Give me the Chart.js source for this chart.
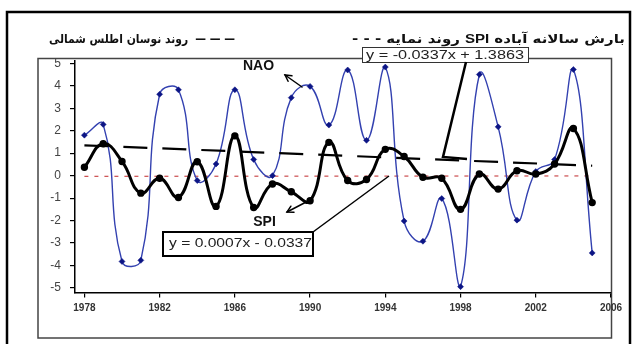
<!DOCTYPE html>
<html>
<head>
<meta charset="utf-8">
<script src="https://cdn.jsdelivr.net/npm/chart.js@4/dist/chart.umd.min.js"></script>
<style>
  html, body { margin: 0; padding: 0; background: #fff; }
  #wrap { width: 634px; height: 344px; }
</style>
</head>
<body>
<div id="wrap"><canvas id="c" width="634" height="344"></canvas></div>
<script>
// ---- data ----
const years = [1978,1979,1980,1981,1982,1983,1984,1985,1986,1987,1988,1989,1990,1991,
               1992,1993,1994,1995,1996,1997,1998,1999,2000,2001,2002,2003,2004,2005];
const nao = [1.80, 2.28, -3.82, -3.77, 3.62, 3.82, -0.22, 0.52, 3.82, 0.72, 0.00, 3.47, 3.97, 2.25,
             4.70, 1.57, 4.83, -2.02, -2.92, -1.02, -4.94, 4.50, 2.17, -1.98, 0.18, 0.72, 4.72, -3.44];
const spi = [0.37, 1.42, 0.63, -0.78, -0.12, -0.97, 0.62, -1.37, 1.77, -1.42, -0.37, -0.72, -1.12, 1.48,
             -0.22, -0.17, 1.17, 0.85, -0.07, -0.12, -1.50, 0.07, -0.60, 0.22, 0.07, 0.52, 2.10, -1.20];
const trendYears = [1978, 2005];
const naoTrend = [1.35, 0.44];    // y = -0.0337x + 1.3863
const spiTrend = [-0.03, -0.014]; // y = 0.0007x - 0.0337
const xTickYears = [1978, 1982, 1986, 1990, 1994, 1998, 2002, 2006];
const yTickValues = [-5, -4, -3, -2, -1, 0, 1, 2, 3, 4, 5];
const naoEquation = 'y = -0.0337x + 1.3863';
const spiEquation = 'y = 0.0007x - 0.0337';
const legendNaoText = 'روند نوسان اطلس شمالی';
const legendNaoKey = '— — —';
const legendSpiParts = ['- - -', 'روند نمایه', 'SPI', 'بارش سالانه آباده'];

const pts = (xs, ys) => xs.map((x, i) => ({x: x, y: ys[i]}));

function fitText(ctx, text, x, y, w, font, dir) {
  ctx.save();
  ctx.font = font;
  ctx.direction = dir || 'ltr';
  ctx.textBaseline = 'middle';
  ctx.textAlign = 'left';
  const m = ctx.measureText(text).width;
  const sx = w / m;
  ctx.translate(x, y);
  ctx.scale(sx, 1);
  ctx.fillText(text, 0, 0);
  ctx.restore();
}
// draws a row of pieces left-to-right, scaled to total width w
function rowText(ctx, pieces, x, y, w, gap) {
  ctx.save();
  ctx.textBaseline = 'middle';
  ctx.textAlign = 'left';
  let total = 0;
  const ws = pieces.map(p => { ctx.font = p.font; const m = ctx.measureText(p.t).width; total += m; return m; });
  total += gap * (pieces.length - 1);
  const sx = w / total;
  ctx.translate(x, y);
  ctx.scale(sx, 1);
  let cx = 0;
  pieces.forEach((p, i) => {
    ctx.font = p.font;
    ctx.direction = p.dir || 'ltr';
    ctx.textAlign = p.dir === 'rtl' ? 'right' : 'left';
    ctx.fillText(p.t, p.dir === 'rtl' ? cx + ws[i] : cx, 0);
    cx += ws[i] + gap;
  });
  ctx.restore();
}
function arrow(ctx, x1, y1, x2, y2, lw) {
  ctx.save();
  ctx.strokeStyle = '#000'; ctx.lineWidth = lw; ctx.lineCap = 'round';
  ctx.beginPath(); ctx.moveTo(x1, y1); ctx.lineTo(x2, y2); ctx.stroke();
  const a = Math.atan2(y2 - y1, x2 - x1), L = 7;
  ctx.beginPath();
  ctx.moveTo(x2 - L * Math.cos(a - 0.5), y2 - L * Math.sin(a - 0.5));
  ctx.lineTo(x2, y2);
  ctx.lineTo(x2 - L * Math.cos(a + 0.5), y2 - L * Math.sin(a + 0.5));
  ctx.stroke();
  ctx.restore();
}

const decor = {
  id: 'decor',
  beforeDraw(chart) {
    const ctx = chart.ctx;
    ctx.save();
    ctx.fillStyle = '#fff';
    ctx.fillRect(0, 0, chart.width, chart.height);
    ctx.strokeStyle = '#000'; ctx.lineWidth = 2.5;
    ctx.strokeRect(7, 12, 623, 345);
    ctx.strokeStyle = '#444'; ctx.lineWidth = 1.5;
    ctx.strokeRect(38, 58.5, 573.5, 279.5);
    ctx.restore();
  },
  afterDraw(chart) {
    const ctx = chart.ctx;
    ctx.save();
    ctx.fillStyle = '#111';
    const fa = 'bold 12px "DejaVu Sans"';
    // left legend: text then key dashes on the right
    rowText(ctx, [
      {t: legendNaoText, font: fa, dir: 'rtl'},
      {t: legendNaoKey, font: fa}
    ], 49, 40, 186, 8);
    // right legend
    rowText(ctx, [
      {t: legendSpiParts[0], font: fa},
      {t: legendSpiParts[1], font: fa, dir: 'rtl'},
      {t: legendSpiParts[2], font: 'bold 12px "Liberation Sans"'},
      {t: legendSpiParts[3], font: fa, dir: 'rtl'}
    ], 352, 40, 273, 4);

    // NAO trend equation box
    ctx.fillStyle = '#fff';
    ctx.fillRect(362, 47, 166, 15);
    ctx.strokeStyle = '#333'; ctx.lineWidth = 1;
    ctx.strokeRect(362.5, 47.5, 166, 15);
    ctx.fillStyle = '#222';
    fitText(ctx, naoEquation, 366, 55.5, 158, '12px "Liberation Sans"');
    ctx.strokeStyle = '#000'; ctx.lineWidth = 2.5; ctx.lineJoin = 'miter';
    ctx.beginPath(); ctx.moveTo(466, 62); ctx.lineTo(443, 157); ctx.lineTo(467, 159); ctx.stroke();

    // SPI trend equation box
    ctx.fillStyle = '#fff';
    ctx.fillRect(163, 232, 150, 24);
    ctx.strokeStyle = '#000'; ctx.lineWidth = 2;
    ctx.strokeRect(163, 232, 150, 24);
    ctx.fillStyle = '#222';
    fitText(ctx, spiEquation, 169, 244, 143, '12px "Liberation Sans"');
    ctx.strokeStyle = '#000'; ctx.lineWidth = 1.5;
    ctx.beginPath(); ctx.moveTo(313, 232); ctx.lineTo(389, 176); ctx.stroke();

    // series labels
    ctx.fillStyle = '#111';
    ctx.font = 'bold 14px "Liberation Sans"';
    ctx.textAlign = 'center'; ctx.textBaseline = 'middle';
    ctx.fillText('NAO', 258.5, 66);
    ctx.fillText('SPI', 264.5, 222.5);
    arrow(ctx, 302, 87, 285, 75, 1.5);
    arrow(ctx, 310, 200, 287, 212, 1.5);
    ctx.restore();
  }
};

new Chart(document.getElementById('c'), {
  type: 'line',
  data: {
    datasets: [
      {
        label: 'NAO trend', data: pts(trendYears, naoTrend),
        borderColor: '#000', borderWidth: 2.2, borderDash: [24, 15],
        pointRadius: 0, tension: 0, order: 1
      },
      {
        label: 'SPI trend', data: pts(trendYears, spiTrend),
        borderColor: '#c0282a', borderWidth: 1, borderDash: [4, 6],
        pointRadius: 0, tension: 0, order: 4
      },
      {
        label: 'NAO', data: pts(years, nao),
        borderColor: '#3341b0', borderWidth: 1.4, tension: 0.45,
        pointStyle: 'rectRot', pointRadius: 3, pointBackgroundColor: '#0c1585',
        pointBorderColor: '#0c1585', pointBorderWidth: 0.5, order: 3
      },
      {
        label: 'SPI', data: pts(years, spi),
        borderColor: '#000', borderWidth: 3, tension: 0.45,
        pointStyle: 'circle', pointRadius: 2.2, pointBackgroundColor: '#000',
        pointBorderColor: '#000', order: 2
      }
    ]
  },
  options: {
    responsive: false,
    animation: false,
    devicePixelRatio: 1,
    layout: { padding: { left: 38, right: 23, top: 61, bottom: 8 } },
    plugins: { legend: { display: false }, tooltip: { enabled: false } },
    scales: {
      x: {
        type: 'linear', min: 1977.5, max: 2006,
        afterBuildTicks: (s) => { s.ticks = xTickYears.map(v => ({value: v})); },
        afterFit: (s) => { s.height = 43.5; s.paddingLeft = 0; s.paddingRight = 0; },
        grid: { display: true, drawOnChartArea: false, drawTicks: true, tickLength: 5, color: '#000', lineWidth: 1.2 },
        border: { display: true, color: '#000', width: 1.5 },
        ticks: {
          autoSkip: false, maxRotation: 0, padding: 5, color: '#333',
          font: { family: '"Liberation Sans Narrow", "Liberation Sans"', size: 10, weight: 'bold' },
          callback: (v) => String(v)
        }
      },
      y: {
        min: -5.2, max: 5.1,
        afterBuildTicks: (s) => { s.ticks = yTickValues.map(v => ({value: v})); },
        afterFit: (s) => { s.width = 37; s.paddingTop = 0; s.paddingBottom = 0; },
        grid: { display: true, drawOnChartArea: false, drawTicks: true, tickLength: 5, color: '#000', lineWidth: 1.2 },
        border: { display: true, color: '#000', width: 1.5 },
        ticks: {
          padding: 9, color: '#444',
          font: { family: '"Liberation Sans"', size: 12 },
          callback: (v) => String(v)
        }
      }
    }
  },
  plugins: [decor]
});
</script>
</body>
</html>
